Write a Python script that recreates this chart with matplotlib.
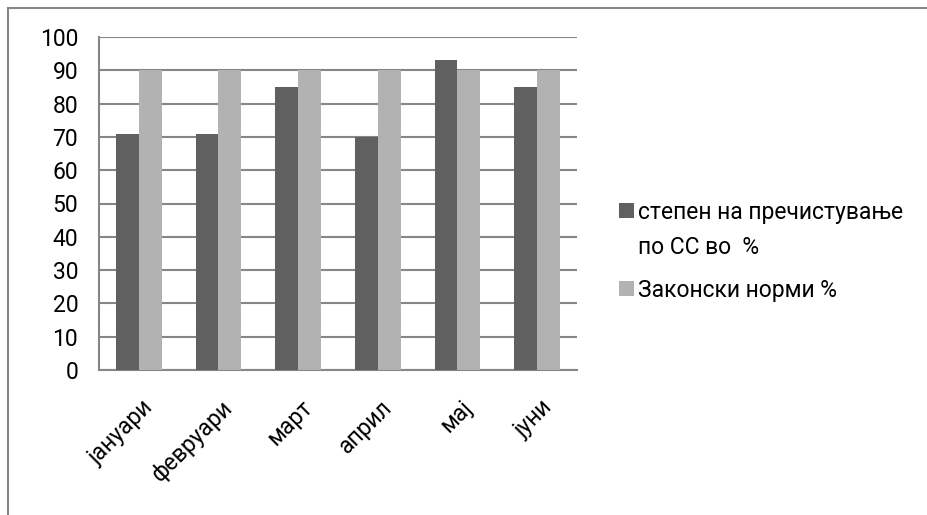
import matplotlib
matplotlib.use("Agg")
import matplotlib.pyplot as plt
import numpy as np
from matplotlib.patches import Rectangle
from matplotlib.transforms import ScaledTranslation

plt.rcParams['font.family'] = ['Roboto', 'DejaVu Sans']

months = ["јануари", "февруари", "март", "април", "мај", "јуни"]
legend_lines = ["степен на пречистување", "по СС во  %", "Законски норми %"]
purification = [71, 71, 85, 70, 93, 85]
norms = [90, 90, 90, 90, 90, 90]
colors = ["#606060", "#b2b2b2"]
yticks = list(range(0, 101, 10))

W, H = 927, 515
fig = plt.figure(figsize=(W / 100, H / 100), dpi=100)
ax = fig.add_axes([99 / W, 1 - 370 / H, 478 / W, 333 / H])

x = np.arange(len(months))
bw = 0.285
ax.bar(x - bw / 2, purification, bw, color=colors[0], zorder=3)
ax.bar(x + bw / 2, norms, bw, color=colors[1], zorder=3)

ax.set_xlim(-0.5, len(months) - 0.5)
ax.set_ylim(0, 100)
ax.set_yticks(yticks)
ax.set_yticklabels([str(v) for v in yticks], fontsize=16.5)
ax.yaxis.grid(True, color="#868686", linewidth=1.5, zorder=0)
ax.set_axisbelow(True)
for s in ["top", "right"]:
    ax.spines[s].set_visible(False)
for s in ["left", "bottom"]:
    ax.spines[s].set_color("#868686")
    ax.spines[s].set_linewidth(1.5)
ax.tick_params(axis="y", length=0, pad=15)
ax.tick_params(axis="x", length=0, pad=0)
ax.set_xticks(x)
ax.set_xticklabels(months, fontsize=16.5, rotation=45, ha="right", va="top",
                   rotation_mode="anchor")
off = ScaledTranslation(3 / 100, -26 / 100, fig.dpi_scale_trans)
for lbl in ax.get_xticklabels():
    lbl.set_transform(lbl.get_transform() + off)

# legend (drawn manually to match the layout of the original)
sq = 15
leg_items = [(colors[0], legend_lines[0], 210), (None, legend_lines[1], 245),
             (colors[1], legend_lines[2], 288)]
for col, txt, yc in leg_items:
    if col is not None:
        fig.patches.append(Rectangle((619 / W, 1 - (yc + sq / 2) / H), sq / W, sq / H,
                                     transform=fig.transFigure, facecolor=col,
                                     edgecolor="none", figure=fig))
    fig.text(638 / W, 1 - yc / H, txt, fontsize=16.5, va="center_baseline", ha="left")

fig.patches.append(Rectangle((8 / W, -0.1), 1.2, 1 - 8 / H + 0.1, transform=fig.transFigure,
                             fill=False, edgecolor="#868686", linewidth=1.5, figure=fig))

fig.savefig("out.png", dpi=100)
